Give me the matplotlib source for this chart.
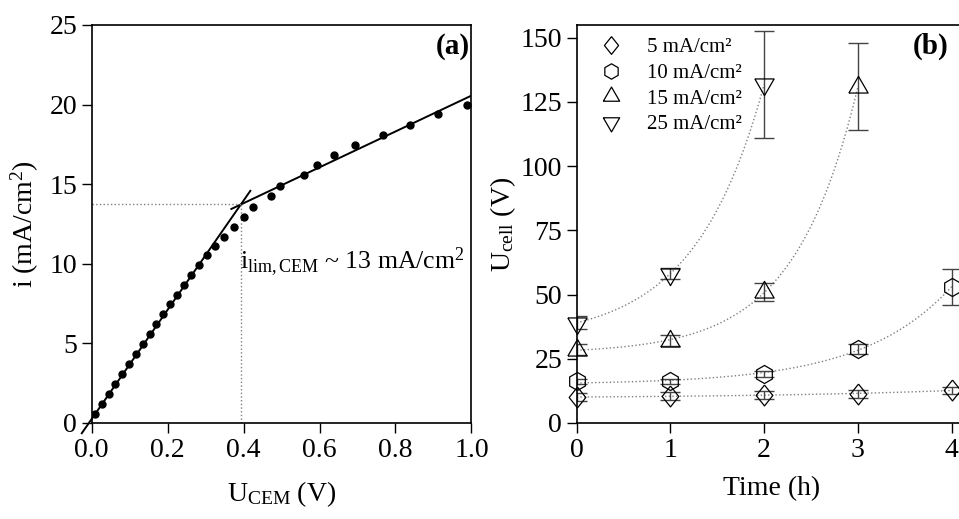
import matplotlib
matplotlib.use("Agg")
import matplotlib.pyplot as plt
import numpy as np

plt.rcParams["font.family"] = ["Liberation Serif", "DejaVu Serif"]
plt.rcParams["mathtext.fontset"] = "custom"
plt.rcParams["mathtext.rm"] = "Liberation Serif"
plt.rcParams["mathtext.it"] = "Liberation Serif:italic"
plt.rcParams["mathtext.bf"] = "Liberation Serif:bold"

# panel (a): polarisation curve
u_cem = [0.010, 0.028, 0.046, 0.062, 0.080, 0.099, 0.118, 0.136, 0.153, 0.170,
         0.188, 0.205, 0.225, 0.242, 0.262, 0.282, 0.303, 0.324, 0.348, 0.376,
         0.400, 0.424, 0.472, 0.497, 0.558, 0.594, 0.638, 0.694, 0.766, 0.838,
         0.913, 0.989]
i_cem = [0.55, 1.19, 1.82, 2.43, 3.06, 3.71, 4.36, 4.97, 5.60, 6.23,
         6.83, 7.46, 8.05, 8.66, 9.27, 9.90, 10.52, 11.13, 11.70, 12.31,
         12.94, 13.54, 14.23, 14.86, 15.58, 16.20, 16.83, 17.44, 18.09, 18.72,
         19.39, 19.96]
# tangent lines (slope, intercept)
ohmic_line = [34.3, 0.25]
plateau_line = [11.26, 9.30]

# panel (b): cell voltage vs time
time_h = [0, 1, 2, 3, 4]
u_5 = [10.0, 10.5, 10.9, 11.4, 12.7]
u_5_err = [1.5, 1.5, 1.5, 1.5, 1.5]
u_10 = [16.2, 16.2, 19.1, 28.8, 53.0]
u_10_err = [1.0, 1.0, 1.0, 2.0, 7.0]
u_15 = [28.6, 32.1, 50.9, 130.9]
u_15_err = [2.0, 2.0, 3.5, 17.0]
u_25 = [39.0, 58.2, 131.8]
u_25_err = [2.5, 2.0, 21.0]
labels_b = ["5 mA/cm²", "10 mA/cm²", "15 mA/cm²", "25 mA/cm²"]


def exp_fit(t, y):
    # y = y0 + a*exp(k*t), grid search on k
    t = np.asarray(t, float)
    y = np.asarray(y, float)
    best = None
    for k in np.linspace(0.05, 3, 600):
        m = np.vstack([np.ones_like(t), np.exp(k * t)]).T
        coef, *_ = np.linalg.lstsq(m, y, rcond=None)
        err = np.sum((m @ coef - y) ** 2)
        if best is None or err < best[0]:
            best = (err, coef, k)
    _, (y0, a), k = best
    tt = np.linspace(t[0], t[-1], 200)
    return tt, y0 + a * np.exp(k * tt)


fig = plt.figure(figsize=(9.59, 5.19), dpi=100)
ax1 = fig.add_axes([0.0956, 0.185, 0.396, 0.767])
ax2 = fig.add_axes([0.6013, 0.185, 0.4057, 0.767])

for ax in (ax1, ax2):
    ax.tick_params(direction="out", length=7, width=1, labelsize=20,
                   top=False, right=False)
    for s in ax.spines.values():
        s.set_linewidth(1.2)

# ---- (a)
p1 = np.array(ohmic_line)
p2 = np.array(plateau_line)
xc = (p2[1] - p1[1]) / (p1[0] - p2[0])
yc = np.polyval(p1, xc)

ax1.plot(u_cem, i_cem, "o", color="black", markersize=5, zorder=3)
l1 = np.array([-0.026, xc + 0.025])
l2 = np.array([xc - 0.025, 1.0])
ax1.plot(l1, np.polyval(p1, l1), color="black", lw=1.4, clip_on=False)
ax1.plot(l2, np.polyval(p2, l2), color="black", lw=1.4)
ax1.plot([0, xc], [yc, yc], ls=":", color="gray", lw=1)
ax1.plot([xc, xc], [0, yc], ls=":", color="gray", lw=1)
ax1.text(xc - 0.003, 10.1, "i$_\\mathrm{lim,CEM}$ ~ 13 mA/cm$^2$", fontsize=18.5,
         ha="left", va="center")
ax1.text(0.995, 0.945, "(a)", transform=ax1.transAxes, fontsize=21,
         fontweight="bold", ha="right", va="center")
ax1.set_xlim(0, 1.0)
ax1.set_ylim(0, 25)
ax1.set_xticks(np.arange(0, 1.01, 0.2))
ax1.set_xticklabels([f"{v:.1f}" for v in np.arange(0, 1.01, 0.2)])
ax1.set_yticks(range(0, 26, 5))
ax1.set_xlabel("U$_\\mathrm{CEM}$ (V)", fontsize=20, labelpad=12)
ax1.set_ylabel("i (mA/cm$^2$)", fontsize=20, labelpad=6)

# ---- (b)
tri_up = [(-1, -0.577), (1, -0.577), (0, 1.155), (-1, -0.577)]
tri_dn = [(-1, 0.577), (1, 0.577), (0, -1.155), (-1, 0.577)]
diamond = [(0, 1), (0.8, 0), (0, -1), (-0.8, 0), (0, 1)]
series = [
    (u_5, u_5_err, diamond, 15),
    (u_10, u_10_err, "h", 13),
    (u_15, u_15_err, tri_up, 16),
    (u_25, u_25_err, tri_dn, 16),
]
for (vals, err, mk, ms), lab in zip(series, labels_b):
    t = time_h[:len(vals)]
    tt, yy = exp_fit(t, vals)
    ax2.plot(tt, yy, ls=":", color="gray", lw=1)
    ax2.errorbar(t, vals, yerr=err, fmt="none", ecolor="#444444",
                 elinewidth=1, capsize=7, capthick=1)
    ax2.plot(t, vals, ls="none", marker=mk, markersize=ms,
             markerfacecolor="none", markeredgecolor="black",
             markeredgewidth=0.9, label=lab, clip_on=False, zorder=4)

ax2.legend(loc="upper left", frameon=False, fontsize=15, handletextpad=1.1,
           borderaxespad=0.2, labelspacing=0.3, markerscale=0.85,
           handlelength=1.2, bbox_to_anchor=(0.025, 1.0))
ax2.text(3.59, 146.6, "(b)", fontsize=21, fontweight="bold",
         ha="left", va="center")
ax2.set_xlim(0, 4.15)
ax2.set_ylim(0, 155)
ax2.set_xticks(time_h)
ax2.set_yticks(range(0, 151, 25))
ax2.set_xlabel("Time (h)", fontsize=20, labelpad=10)
ax2.set_ylabel("U$_\\mathrm{cell}$ (V)", fontsize=20, labelpad=2)

fig.savefig("out.png", dpi=100)
